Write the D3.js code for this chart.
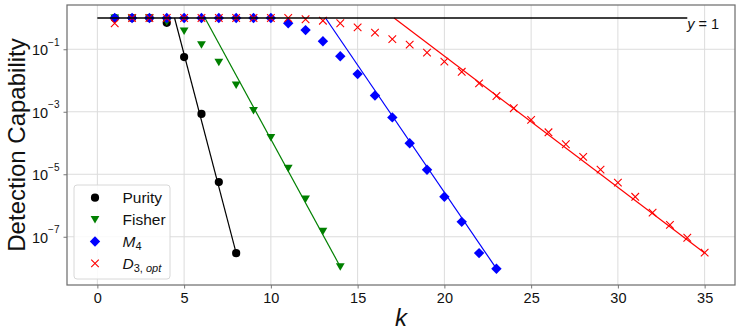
<!DOCTYPE html>
<html>
<head>
<meta charset="utf-8">
<script src="https://cdn.jsdelivr.net/npm/d3@7"></script>
<style>
  body { margin: 0; background: #fff; }
  svg { display: block; font-family: "Liberation Sans", Arial, sans-serif; }
</style>
</head>
<body>
<div id="chart"></div>
<script>
// detection capability vs k, one array per series
var purityK = [1, 2, 3, 4, 5, 6, 7, 8];
var purity = [1, 1, 1, 0.7, 0.056, 8.5e-4, 5.6e-6, 3e-8];

var fisherK = [1, 2, 3, 4, 5, 6, 7, 8, 9, 10, 11, 12, 13, 14];
var fisher = [1, 1, 1, 0.75, 0.38, 0.14, 0.038, 7.2e-3, 1.1e-3, 1.5e-4, 1.55e-5, 1.6e-6, 1.5e-7, 1.1e-8];

var m4K = d3.range(1, 24);
var m4 = [1, 1, 1, 1, 1, 1, 1, 1, 1, 1, 0.68, 0.41, 0.18, 0.06, 0.016, 3.3e-3, 6.6e-4,
          9.8e-5, 1.4e-5, 1.9e-6, 3e-7, 3e-8, 9.5e-9];

var d3optK = d3.range(1, 36);
var d3opt = [0.68, 1, 1, 1, 1, 1, 1, 1, 1, 1, 1, 0.91, 0.82, 0.68, 0.5, 0.34, 0.21, 0.14,
             0.078, 0.04, 0.019, 8.1e-3, 3.2e-3, 1.3e-3, 5.5e-4, 2.2e-4, 9.1e-5, 3.6e-5,
             1.4e-5, 5.4e-6, 1.9e-6, 5.9e-7, 2.4e-7, 9.3e-8, 3.1e-8];

// fitted lines (k, value) start and end
var purityFit = [[4.45, 1], [8, 3e-8]];
var fisherFit = [[6.2, 1], [14, 1.1e-8]];
var m4Fit = [[13.15, 1], [23, 9.5e-9]];
var d3optFit = [[17.1, 1], [35, 3e-8]];

// reference line y = 1
var refLine = [[0, 1], [34, 1]];

var xTicks = [0, 5, 10, 15, 20, 25, 30, 35];
var yTicks = [1e-1, 1e-3, 1e-5, 1e-7];
var yExp = ["\u22121", "\u22123", "\u22125", "\u22127"];

var W = 738, H = 331;
var margin = {top: 5, right: 3, bottom: 46, left: 67};
var width = W - margin.left - margin.right,
    height = H - margin.top - margin.bottom;

var x = d3.scaleLinear().domain([-1.75, 36.75]).range([0, width]);
var y = d3.scaleLog().domain([Math.pow(10, -8.544), Math.pow(10, 0.416)]).range([height, 0]);

var svg = d3.select("#chart").append("svg")
    .attr("width", W)
    .attr("height", H)
  .append("g")
    .attr("transform", "translate(" + margin.left + "," + margin.top + ")");

// grid
svg.append("g").selectAll("line")
    .data(xTicks)
  .enter().append("line")
    .attr("x1", function(d) { return x(d); })
    .attr("x2", function(d) { return x(d); })
    .attr("y1", 0).attr("y2", height)
    .attr("stroke", "#dcdcdc").attr("stroke-width", 1);
svg.append("g").selectAll("line")
    .data(yTicks)
  .enter().append("line")
    .attr("y1", function(d) { return y(d); })
    .attr("y2", function(d) { return y(d); })
    .attr("x1", 0).attr("x2", width)
    .attr("stroke", "#dcdcdc").attr("stroke-width", 1);

// axes
var xAxis = svg.append("g")
    .attr("transform", "translate(0," + height + ")")
    .call(d3.axisBottom(x).tickValues(xTicks).tickSize(3.5).tickPadding(4).tickSizeOuter(0));
var yAxis = svg.append("g")
    .call(d3.axisLeft(y).tickValues(yTicks).tickSize(3.5).tickPadding(4).tickSizeOuter(0)
          .tickFormat(function() { return ""; }));

[xAxis, yAxis].forEach(function(a) {
  a.select(".domain").remove();
  a.selectAll(".tick line").attr("stroke", "#777").attr("stroke-width", 1);
});
xAxis.selectAll(".tick text")
    .attr("font-family", "Liberation Sans, Arial, sans-serif")
    .attr("font-size", 14.5).attr("fill", "#111");

yAxis.selectAll(".tick text")
    .attr("font-family", "Liberation Sans, Arial, sans-serif")
    .attr("fill", "#111")
    .attr("dy", "0.55em")
    .each(function(d, i) {
      var t = d3.select(this);
      t.append("tspan").attr("font-size", 14.5).text("10");
      t.append("tspan").attr("font-size", 10).attr("dy", "-0.95em").text(yExp[i]);
    });

// frame
svg.append("rect")
    .attr("x", 0).attr("y", 0)
    .attr("width", width).attr("height", height)
    .attr("fill", "none").attr("stroke", "#707070").attr("stroke-width", 1.25);

var line = d3.line()
    .x(function(d) { return x(d[0]); })
    .y(function(d) { return y(d[1]); });

// marker shapes
function circleM(s) { return d3.symbol().type(d3.symbolCircle).size(Math.PI * s * s)(); }
function diamondM(s) { return "M0," + (-s) + "L" + s + ",0L0," + s + "L" + (-s) + ",0Z"; }
function triDownM(s) { return "M" + (-s) + "," + (-s * 0.8) + "L" + s + "," + (-s * 0.8) + "L0," + (s * 0.9) + "Z"; }
function crossM(s) { return "M" + (-s) + "," + (-s) + "L" + s + "," + s + "M" + (-s) + "," + s + "L" + s + "," + (-s); }

var series = [
  {k: purityK, v: purity, fit: purityFit, color: "#000000", path: circleM(4.1), stroke: false, name: "Purity"},
  {k: fisherK, v: fisher, fit: fisherFit, color: "#008000", path: triDownM(4.4), stroke: false, name: "Fisher"},
  {k: m4K, v: m4, fit: m4Fit, color: "#0000ff", path: diamondM(5.2), stroke: false, name: "M4"},
  {k: d3optK, v: d3opt, fit: d3optFit, color: "#ff0000", path: crossM(3.8), stroke: true, name: "D3opt"}
];

var plot = svg.append("g");

series.forEach(function(s) {
  plot.append("path")
      .datum(s.fit)
      .attr("fill", "none")
      .attr("stroke", s.color)
      .attr("stroke-width", 1.2)
      .attr("d", line);
  plot.selectAll(null)
      .data(s.k.map(function(k, i) { return [k, s.v[i]]; }))
    .enter().append("path")
      .attr("transform", function(d) { return "translate(" + x(d[0]) + "," + y(d[1]) + ")"; })
      .attr("d", s.path)
      .attr("fill", s.stroke ? "none" : s.color)
      .attr("stroke", s.stroke ? s.color : "none")
      .attr("stroke-width", 1.1);
});

// y = 1 reference line
plot.append("path")
    .datum(refLine)
    .attr("fill", "none")
    .attr("stroke", "#000")
    .attr("stroke-width", 1.3)
    .attr("d", line);

var refText = svg.append("text")
    .attr("x", x(refLine[1][0]))
    .attr("y", y(refLine[1][1]) + 10.5)
    .attr("font-size", 14.5)
    .attr("fill", "#111");
refText.append("tspan").attr("font-style", "italic").text("y");
refText.append("tspan").text(" = 1");

// legend
var lg = svg.append("g").attr("transform", "translate(7,180)");
lg.append("rect")
    .attr("width", 96).attr("height", 94)
    .attr("rx", 3)
    .attr("fill", "#fff").attr("fill-opacity", 0.85)
    .attr("stroke", "#d8d8d8").attr("stroke-width", 1);

var lgItems = lg.selectAll("g.item")
    .data(series)
  .enter().append("g")
    .attr("class", "item")
    .attr("transform", function(d, i) { return "translate(0," + (12.7 + i * 21.9) + ")"; });

lgItems.append("path")
    .attr("transform", "translate(21,0)")
    .attr("d", function(d) { return d.path; })
    .attr("fill", function(d) { return d.stroke ? "none" : d.color; })
    .attr("stroke", function(d) { return d.stroke ? d.color : "none"; })
    .attr("stroke-width", 1.1);

lgItems.each(function(d) {
  var t = d3.select(this).append("text")
      .attr("x", 48.5).attr("y", 5.5)
      .attr("font-size", 15.5)
      .attr("fill", "#111");
  if (d.name === "M4") {
    t.append("tspan").attr("font-style", "italic").text("M");
    t.append("tspan").attr("font-size", 11).attr("dy", 3).text("4");
  } else if (d.name === "D3opt") {
    t.append("tspan").attr("font-style", "italic").text("D");
    t.append("tspan").attr("font-size", 11).attr("dy", 3).text("3,");
    t.append("tspan").attr("font-size", 11).attr("font-style", "italic").text(" opt");
  } else {
    t.text(d.name);
  }
});

// axis labels
svg.append("text")
    .attr("text-anchor", "middle")
    .attr("transform", "translate(" + (-42) + "," + (height / 2) + ")rotate(-90)")
    .attr("font-size", 24)
    .attr("fill", "#111")
    .text("Detection Capability");

svg.append("text")
    .attr("text-anchor", "middle")
    .attr("x", width / 2)
    .attr("y", height + 41)
    .attr("font-size", 24)
    .attr("font-style", "italic")
    .attr("fill", "#111")
    .text("k");
</script>
</body>
</html>
